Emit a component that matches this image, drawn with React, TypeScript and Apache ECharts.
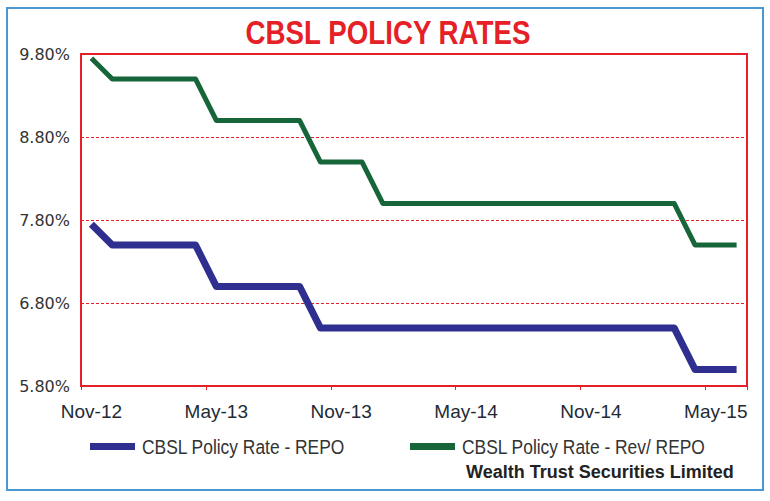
import React, { useEffect, useRef } from "react";
import * as echarts from "echarts";

const months: string[] = [
  "Nov-12", "Dec-12", "Jan-13", "Feb-13", "Mar-13", "Apr-13",
  "May-13", "Jun-13", "Jul-13", "Aug-13", "Sep-13", "Oct-13",
  "Nov-13", "Dec-13", "Jan-14", "Feb-14", "Mar-14", "Apr-14",
  "May-14", "Jun-14", "Jul-14", "Aug-14", "Sep-14", "Oct-14",
  "Nov-14", "Dec-14", "Jan-15", "Feb-15", "Mar-15", "Apr-15",
  "May-15", "Jun-15",
];

const repo: number[] = [
  7.75, 7.5, 7.5, 7.5, 7.5, 7.5,
  7.0, 7.0, 7.0, 7.0, 7.0, 6.5,
  6.5, 6.5, 6.5, 6.5, 6.5, 6.5,
  6.5, 6.5, 6.5, 6.5, 6.5, 6.5,
  6.5, 6.5, 6.5, 6.5, 6.5, 6.0,
  6.0, 6.0,
];

const revRepo: number[] = [
  9.75, 9.5, 9.5, 9.5, 9.5, 9.5,
  9.0, 9.0, 9.0, 9.0, 9.0, 8.5,
  8.5, 8.5, 8.0, 8.0, 8.0, 8.0,
  8.0, 8.0, 8.0, 8.0, 8.0, 8.0,
  8.0, 8.0, 8.0, 8.0, 8.0, 7.5,
  7.5, 7.5,
];

const seriesNames: string[] = ["CBSL Policy Rate - REPO", "CBSL Policy Rate - Rev/ REPO"];
const titleText = "CBSL POLICY RATES";
const sourceText = "Wealth Trust Securities Limited";

const yMin = 5.8;
const yMax = 9.8;
const yStep = 1;

const SANS = "'Liberation Sans', Arial, sans-serif";
const RED = "#e52026";
const BLUE = "#2e2f8f";
const GREEN = "#17663a";

export default function App() {
  const ref = useRef<HTMLDivElement>(null);
  useEffect(() => {
    if (!ref.current) return;
    const chart = echarts.init(ref.current, undefined, { renderer: "svg" });
    chart.setOption({
      animation: false,
      backgroundColor: "#ffffff",
      graphic: [
        {
          type: "rect",
          shape: { x: 7, y: 8, width: 756, height: 482 },
          style: { fill: "none", stroke: "#4a97d2", lineWidth: 2 },
          silent: true,
        },
        {
          type: "text",
          x: 388,
          y: 32,
          scaleX: 0.84,
          style: {
            text: titleText,
            x: 0,
            y: 0,
            align: "center",
            verticalAlign: "middle",
            fontFamily: SANS,
            fontSize: 33,
            fontWeight: "bold",
            fill: RED,
          },
        },
        {
          type: "rect",
          shape: { x: 90, y: 443, width: 45, height: 7 },
          style: { fill: BLUE },
        },
        {
          type: "text",
          x: 142,
          y: 447,
          scaleX: 0.87,
          style: {
            text: seriesNames[0],
            x: 0,
            y: 0,
            align: "left",
            verticalAlign: "middle",
            fontFamily: SANS,
            fontSize: 20,
            fill: "#333333",
          },
        },
        {
          type: "rect",
          shape: { x: 410, y: 443, width: 45, height: 7 },
          style: { fill: GREEN },
        },
        {
          type: "text",
          x: 462,
          y: 447,
          scaleX: 0.87,
          style: {
            text: seriesNames[1],
            x: 0,
            y: 0,
            align: "left",
            verticalAlign: "middle",
            fontFamily: SANS,
            fontSize: 20,
            fill: "#333333",
          },
        },
        {
          type: "text",
          x: 466,
          y: 472,
          style: {
            text: sourceText,
            x: 0,
            y: 0,
            align: "left",
            verticalAlign: "middle",
            fontFamily: SANS,
            fontSize: 18,
            fontWeight: "bold",
            fill: "#222222",
          },
        },
      ],
      grid: {
        left: 81,
        right: 23,
        top: 54,
        bottom: 115,
        show: true,
        borderColor: RED,
        borderWidth: 2,
        containLabel: false,
      },
      xAxis: {
        type: "category",
        data: months,
        boundaryGap: true,
        axisLine: { show: true, lineStyle: { color: RED, width: 2 } },
        axisTick: { show: true, interval: 5, length: 4, lineStyle: { color: RED, width: 1 } },
        axisLabel: {
          interval: 5,
          margin: 16,
          fontFamily: SANS,
          fontSize: 19,
          color: "#1e2b36",
        },
        splitLine: { show: false },
      },
      yAxis: {
        type: "value",
        min: yMin,
        max: yMax,
        interval: yStep,
        axisLine: { show: true, lineStyle: { color: RED, width: 2 } },
        axisTick: { show: false },
        axisLabel: {
          margin: 11,
          fontFamily: "'DejaVu Sans', sans-serif",
          fontSize: 16,
          color: "#333333",
          formatter: (v: number) => v.toFixed(2) + "%",
        },
        splitLine: { show: true, lineStyle: { color: RED, width: 1, type: [3, 2] } },
      },
      series: [
        {
          name: seriesNames[0],
          type: "line",
          data: repo,
          symbol: "none",
          lineStyle: { color: BLUE, width: 7, join: "round" },
          itemStyle: { color: BLUE },
        },
        {
          name: seriesNames[1],
          type: "line",
          data: revRepo,
          symbol: "none",
          lineStyle: { color: GREEN, width: 5, join: "round" },
          itemStyle: { color: GREEN },
        },
      ],
    });
    return () => chart.dispose();
  }, []);
  return (
    <div
      ref={ref}
      style={{ position: "fixed", left: 0, top: 0, width: 770, height: 501 }}
    />
  );
}
